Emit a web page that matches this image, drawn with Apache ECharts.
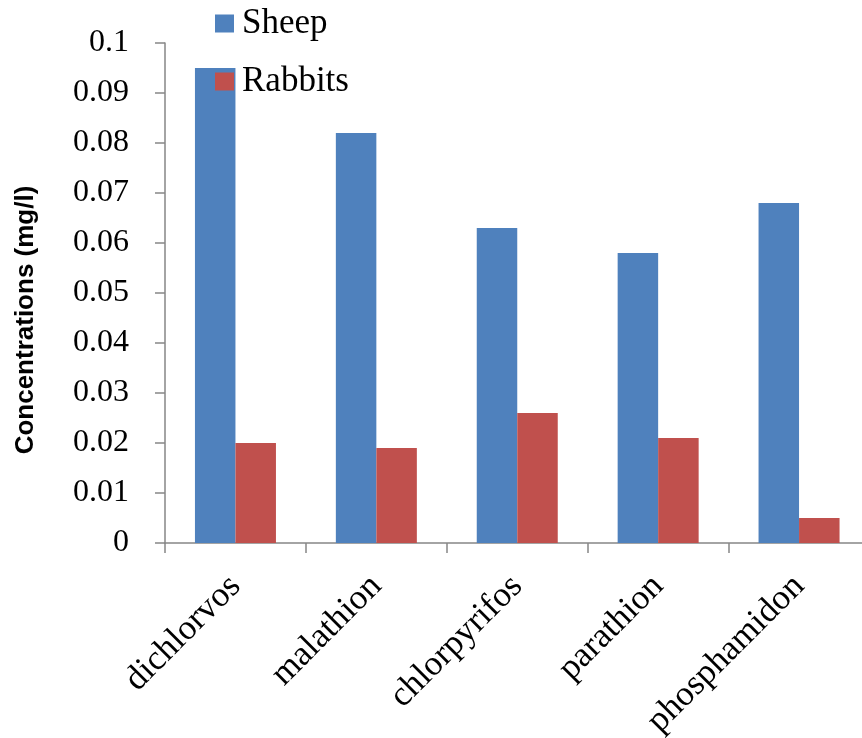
<!DOCTYPE html>
<html>
<head>
<meta charset="utf-8">
<script src="https://cdn.jsdelivr.net/npm/echarts@6/dist/echarts.min.js"></script>
<style>
html,body{margin:0;padding:0;background:#fff;}
#main{width:862px;height:738px;}
</style>
</head>
<body>
<div id="main"></div>
<script>
var categories = ['dichlorvos', 'malathion', 'chlorpyrifos', 'parathion', 'phosphamidon'];
var sheep = [0.095, 0.082, 0.063, 0.058, 0.068];
var rabbits = [0.020, 0.019, 0.026, 0.021, 0.005];
var seriesNames = ['Sheep', 'Rabbits'];
var yTitle = 'Concentrations (mg/l)';

var chart = echarts.init(document.getElementById('main'), null, {renderer: 'canvas'});
var serif = '"Liberation Serif", "Times New Roman", serif';
var axisColor = '#868686';
chart.setOption({
  animation: false,
  backgroundColor: '#ffffff',
  grid: {left: 165, width: 704.5, top: 43, height: 500, containLabel: false, outerBoundsMode: 'none'},
  legend: {
    orient: 'vertical',
    left: 210,
    top: 1,
    itemWidth: 19,
    itemHeight: 18,
    itemGap: 23,
    icon: 'rect',
    textStyle: {fontFamily: serif, fontSize: 35, color: '#000', padding: [0, 0, 0, 3]},
    data: seriesNames
  },
  xAxis: {
    type: 'category',
    data: categories,
    axisLine: {lineStyle: {color: axisColor, width: 1.5}},
    axisTick: {show: true, length: 10, alignWithLabel: false, lineStyle: {color: axisColor, width: 1.5}},
    axisLabel: {rotate: 45, margin: 38, fontFamily: serif, fontSize: 35, color: '#000', interval: 0},
    splitLine: {show: false}
  },
  yAxis: {
    type: 'value',
    min: 0,
    max: 0.1,
    interval: 0.01,
    name: yTitle,
    nameLocation: 'middle',
    nameGap: 126,
    nameRotate: 90,
    nameTextStyle: {fontFamily: '"Liberation Sans", Arial, sans-serif', fontWeight: 'bold', fontSize: 26, color: '#000', padding: [0, 54, 0, 0]},
    axisLine: {show: true, lineStyle: {color: axisColor, width: 1.5}},
    axisTick: {show: true, length: 10, lineStyle: {color: axisColor, width: 1.5}},
    axisLabel: {margin: 36, fontFamily: serif, fontSize: 32, color: '#000',
      formatter: function (v) { return String(Math.round(v * 100) / 100); }},
    splitLine: {show: false}
  },
  series: [
    {name: seriesNames[0], type: 'bar', data: sheep, barWidth: 40.5, barGap: '0%',
     itemStyle: {color: '#4F81BD'}},
    {name: seriesNames[1], type: 'bar', data: rabbits, barWidth: 40.5, barGap: '0%',
     itemStyle: {color: '#C0504D'}}
  ]
});
</script>
</body>
</html>
